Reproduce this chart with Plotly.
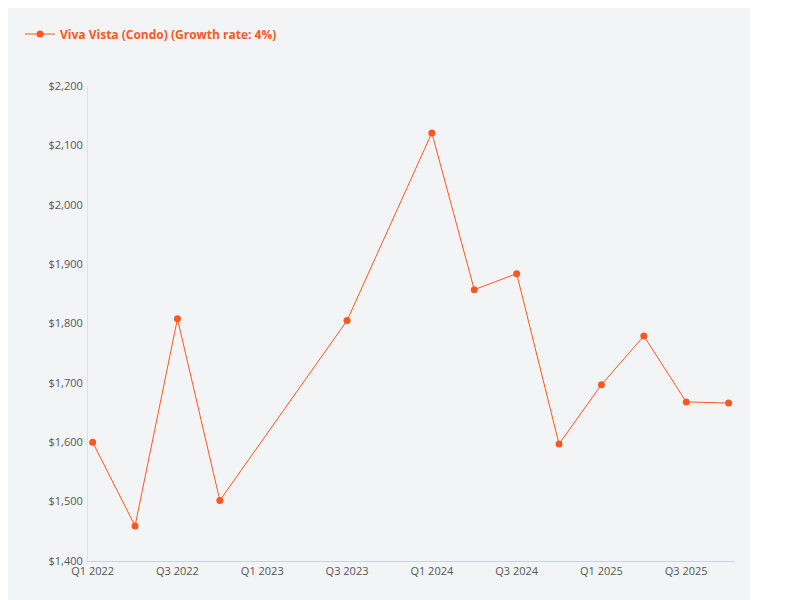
import plotly.graph_objects as go

quarters = ["Q1 2022", "Q2 2022", "Q3 2022", "Q4 2022", "Q1 2023", "Q2 2023", "Q3 2023", "Q4 2023",
            "Q1 2024", "Q2 2024", "Q3 2024", "Q4 2024", "Q1 2025", "Q2 2025", "Q3 2025", "Q4 2025"]
point_quarters = ["Q1 2022", "Q2 2022", "Q3 2022", "Q4 2022", "Q3 2023", "Q1 2024", "Q2 2024",
                  "Q3 2024", "Q4 2024", "Q1 2025", "Q2 2025", "Q3 2025", "Q4 2025"]
prices = [1600, 1459, 1808, 1502, 1805, 2121, 1857, 1884, 1597, 1697, 1779, 1668, 1666]

x = [quarters.index(q) for q in point_quarters]
color = "#ff5722"

fig = go.Figure(go.Scatter(
    x=x, y=prices, mode="lines+markers",
    name="Viva Vista (Condo) (Growth rate: 4%)",
    line=dict(color=color, width=1),
    marker=dict(color=color, size=7),
    customdata=point_quarters,
    hovertemplate="%{customdata}: $%{y:,}<extra></extra>",
))

fig.update_layout(
    width=742, height=592,
    paper_bgcolor="#f3f4f6", plot_bgcolor="#f3f4f6",
    margin=dict(l=52, r=15, t=42, b=39),
    font=dict(family="Open Sans", size=11, color="#555"),
    showlegend=True,
    legend=dict(x=-0.105, y=1.14, xanchor="left", yanchor="top", orientation="h",
                font=dict(color=color, size=12, weight="bold")),
    xaxis=dict(range=[-0.11, 15.15], tickvals=list(range(0, 16, 2)),
               ticktext=quarters[::2], showgrid=False, zeroline=False,
               showline=True, linecolor="#c6d4e6", ticks="", tickfont=dict(size=11)),
    yaxis=dict(range=[1400, 2200], dtick=100, tickprefix="$", tickformat=",",
               showgrid=False, zeroline=False, showline=True, linecolor="#dde2e8",
               ticks="", tickfont=dict(size=11), ticklabelstandoff=2),
)

fig.write_html("out.html")
